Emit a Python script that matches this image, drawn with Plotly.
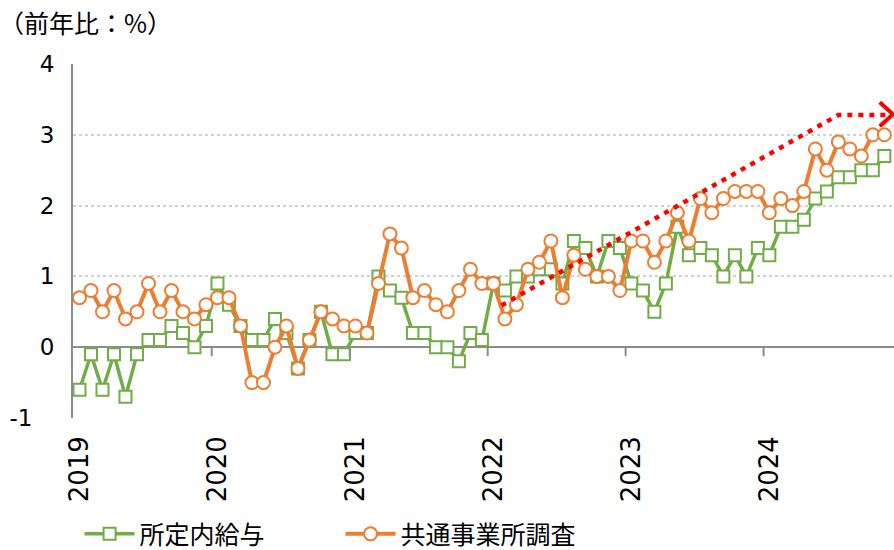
import plotly.graph_objects as go

# ---- data (monthly, Jan 2019 - Nov 2024) ----
months = [f"{y}-{m:02d}" for y in range(2019, 2025) for m in range(1, 13)][:71]

shoteinai = [  # 所定内給与
    -0.6, -0.1, -0.6, -0.1, -0.7, -0.1, 0.1, 0.1, 0.3, 0.2, 0.0, 0.3,
    0.9, 0.6, 0.3, 0.1, 0.1, 0.4, 0.2, -0.3, 0.1, 0.5, -0.1, -0.1,
    0.2, 0.2, 1.0, 0.8, 0.7, 0.2, 0.2, 0.0, 0.0, -0.2, 0.2, 0.1,
    0.9, 0.8, 1.0, 1.0, 1.1, 1.1, 0.9, 1.5, 1.4, 1.0, 1.5, 1.4,
    0.9, 0.8, 0.5, 0.9, 1.7, 1.3, 1.4, 1.3, 1.0, 1.3, 1.0, 1.4,
    1.3, 1.7, 1.7, 1.8, 2.1, 2.2, 2.4, 2.4, 2.5, 2.5, 2.7,
]
kyotsu = [  # 共通事業所調査
    0.7, 0.8, 0.5, 0.8, 0.4, 0.5, 0.9, 0.5, 0.8, 0.5, 0.4, 0.6,
    0.7, 0.7, 0.3, -0.5, -0.5, 0.0, 0.3, -0.3, 0.1, 0.5, 0.4, 0.3,
    0.3, 0.2, 0.9, 1.6, 1.4, 0.7, 0.8, 0.6, 0.5, 0.8, 1.1, 0.9,
    0.9, 0.4, 0.6, 1.1, 1.2, 1.5, 0.7, 1.3, 1.1, 1.0, 1.0, 0.8,
    1.5, 1.5, 1.2, 1.5, 1.9, 1.5, 2.1, 1.9, 2.1, 2.2, 2.2, 2.2,
    1.9, 2.1, 2.0, 2.2, 2.8, 2.5, 2.9, 2.8, 2.7, 3.0, 3.0,
]
year_labels = ["2019", "2020", "2021", "2022", "2023", "2024"]
y_ticks = [-1, 0, 1, 2, 3, 4]
y_ticktext = ["-1\u00a0\u00a0\u00a0", "0", "1", "2", "3", "4"]

idx = list(range(len(months)))
year_pos = [i for i, m in enumerate(months) if m.endswith("-01")]
year_bounds = [p - 0.5 for p in year_pos[1:]]

GREEN = "#70AD47"
ORANGE = "#ED7D31"
RED = "#FF0000"
AXIS = "#8C8C8C"
JP = "Noto Sans CJK JP"
NUM = "DejaVu Sans"

fig = go.Figure()
fig.add_trace(go.Scatter(
    x=idx, y=shoteinai, name="所定内給与", mode="lines+markers",
    line=dict(color=GREEN, width=3.5),
    marker=dict(symbol="square", size=12, color="white",
                line=dict(color=GREEN, width=2)),
))
fig.add_trace(go.Scatter(
    x=idx, y=kyotsu, name="共通事業所調査", mode="lines+markers",
    line=dict(color=ORANGE, width=4),
    marker=dict(symbol="circle", size=13, color="white",
                line=dict(color=ORANGE, width=2)),
))

shapes = []
# year boundary tick marks hanging below the zero line
for b in year_bounds:
    shapes.append(dict(type="line", xref="x", yref="y", ysizemode="pixel",
                       yanchor=0, x0=b, x1=b, y0=0, y1=-9,
                       line=dict(color=AXIS, width=2)))
# red dotted trend arrow (hand-drawn annotation in the original)
shapes.append(dict(type="path", xref="x", yref="y",
                   path="M 36.7,0.59 L 66.0,3.28 L 70.1,3.28",
                   line=dict(color=RED, width=4.5, dash="5px,6px")))
shapes.append(dict(type="path", xref="x", yref="y",
                   path="M 69.6,3.46 L 70.75,3.29 L 69.6,3.12",
                   line=dict(color=RED, width=4)))

fig.update_layout(
    width=894, height=550,
    margin=dict(l=73, r=0, t=64, b=132, autoexpand=False),
    paper_bgcolor="white", plot_bgcolor="white",
    font=dict(family=NUM, size=22, color="#000000"),
    shapes=shapes,
    showlegend=True,
    legend=dict(orientation="h", x=0.008, xanchor="left", y=-0.328,
                yanchor="middle", font=dict(family=JP, size=25, color="#000"),
                itemwidth=50, entrywidth=196, entrywidthmode="pixels",
                borderwidth=0, tracegroupgap=0,
                bgcolor="rgba(0,0,0,0)"),
    annotations=[dict(text="（前年比：%）", xref="paper", yref="paper",
                      x=0, y=1, xshift=-76, yshift=42, xanchor="left",
                      yanchor="middle", showarrow=False,
                      font=dict(family=JP, size=25, color="#000"))],
)
fig.update_xaxes(
    range=[-0.565, 70.84], tickmode="array", tickvals=year_pos,
    ticktext=year_labels, tickangle=-90, ticks="", showgrid=False,
    zeroline=False, showline=False, ticklabelstandoff=12,
    tickfont=dict(family=NUM, size=26), automargin=False,
)
fig.update_yaxes(
    range=[-1, 4], tickmode="array", tickvals=y_ticks, ticktext=y_ticktext,
    showgrid=True, gridcolor="#D0D0D0", griddash="dot", gridwidth=1.5,
    zeroline=True, zerolinecolor=AXIS, zerolinewidth=2,
    showline=True, linecolor=AXIS, linewidth=2, ticks="",
    ticklabelstandoff=12, tickfont=dict(family=NUM, size=23), automargin=False,
)

fig.write_html("out.html")
